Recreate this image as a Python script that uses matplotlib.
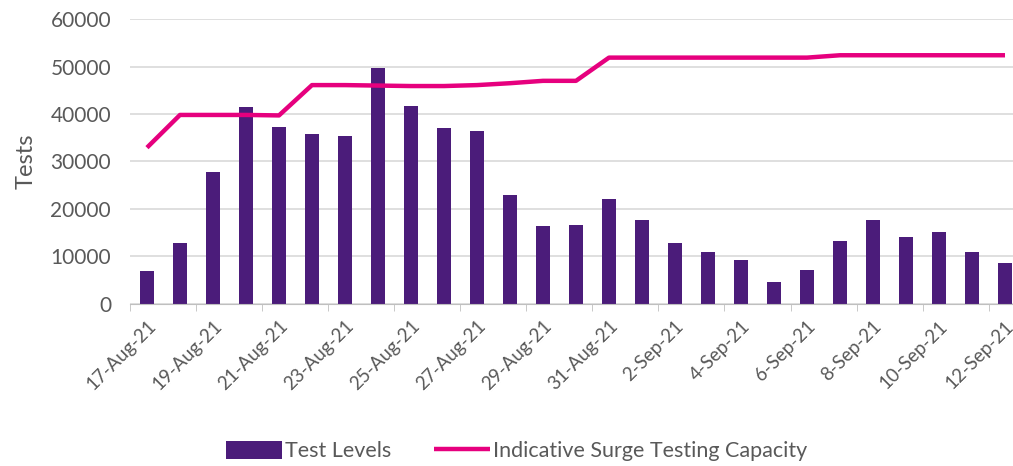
import matplotlib
matplotlib.use("Agg")
import matplotlib.pyplot as plt
import numpy as np

plt.rcParams['font.family'] = ['Lato', 'DejaVu Sans']

dates = ['17-Aug-21', '18-Aug-21', '19-Aug-21', '20-Aug-21', '21-Aug-21', '22-Aug-21',
         '23-Aug-21', '24-Aug-21', '25-Aug-21', '26-Aug-21', '27-Aug-21', '28-Aug-21',
         '29-Aug-21', '30-Aug-21', '31-Aug-21', '1-Sep-21', '2-Sep-21', '3-Sep-21',
         '4-Sep-21', '5-Sep-21', '6-Sep-21', '7-Sep-21', '8-Sep-21', '9-Sep-21',
         '10-Sep-21', '11-Sep-21', '12-Sep-21']

test_levels = [6900, 12800, 27800, 41400, 37200, 35700, 35300, 49800, 41700, 37000,
               36400, 23000, 16300, 16500, 22000, 17600, 12700, 10900, 9100, 4600,
               7100, 13200, 17600, 14100, 15100, 10800, 8500]

surge_capacity = [32900, 39800, 39800, 39800, 39700, 46100, 46100, 46000, 45900, 45900,
                  46100, 46500, 47000, 47000, 51900, 51900, 51900, 51900, 51900, 51900,
                  51900, 52400, 52400, 52400, 52400, 52400, 52400]

grey = '#595959'
x = np.arange(len(dates))

fig = plt.figure(figsize=(10.13, 4.66), dpi=100)
ax = fig.add_axes([0.1288, 0.3487, 0.8796, 0.610])

bars = ax.bar(x, test_levels, width=0.4, color='#4B1C7A', label='Test Levels', zorder=2)
line, = ax.plot(x, surge_capacity, color='#E6007E', lw=3.2, solid_capstyle='butt',
                label='Indicative Surge Testing Capacity', zorder=3)

ax.set_xlim(-0.5, len(dates) - 0.5)
ax.set_ylim(0, 60000)
ax.set_yticks(np.arange(0, 60001, 10000))
ax.grid(axis='y', color='#D9D9D9', lw=1.2, zorder=0)
ax.set_axisbelow(True)

ax.set_xticks(x[::2])
ax.set_xticklabels(dates[::2], rotation=45, ha='right', va='top', rotation_mode='anchor')
ax.set_xticks(np.arange(-0.5, len(dates), 2), minor=True)
ax.tick_params(axis='x', which='major', length=0, pad=10, labelsize=13.5, labelcolor=grey)
ax.tick_params(axis='x', which='minor', length=5, color='#BFBFBF')
ax.tick_params(axis='y', length=0, pad=14, labelsize=15, labelcolor=grey)

for s in ['top', 'right', 'left']:
    ax.spines[s].set_visible(False)
ax.spines['bottom'].set_color('#BFBFBF')

ax.set_ylabel('Tests', fontsize=17, color=grey, labelpad=10)

fig.legend([bars, line], ['Test Levels', 'Indicative Surge Testing Capacity'],
           loc='center', bbox_to_anchor=(0.51, 0.032), ncol=2, frameon=False,
           fontsize=15.5, handlelength=2.6, handleheight=0.9, handletextpad=0.15,
           columnspacing=2.0, labelcolor=grey)

fig.savefig('out.png', dpi=100)
